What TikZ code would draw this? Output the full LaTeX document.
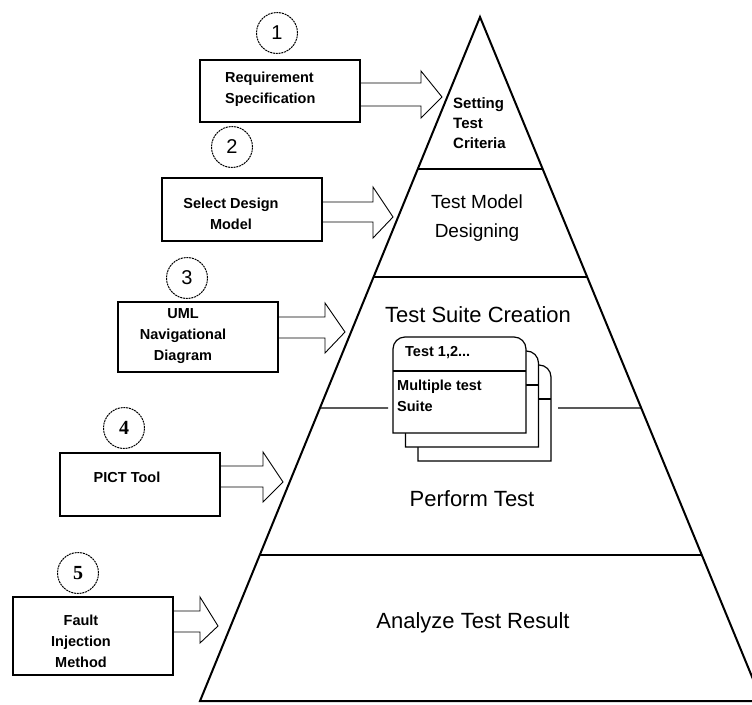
\documentclass[tikz,border=0pt]{standalone}
\usepackage{fontspec}
\setmainfont{Liberation Sans}
\newfontfamily\numserif{Liberation Serif}
\usepackage{tikz}
\usetikzlibrary{calc}

\tikzset{
  inbox/.style={draw, line width=1.3pt, minimum width=160pt, inner sep=0pt},
  numcirc/.style={draw, circle, dash pattern=on 2pt off 0.8pt, line width=1pt,
    minimum size=41pt, inner sep=0pt, font=\fontsize{20}{20}\selectfont},
  lbl/.style={font=\bfseries\fontsize{14.5}{21}\selectfont, inner sep=0pt},
  lvl/.style={font=\fontsize{22}{28}\selectfont, inner sep=0pt},
  blockarr/.style={line width=0.9pt, line join=miter},
}

\begin{document}
\begin{tikzpicture}[x=1pt,y=-1pt]
          \useasboundingbox (0,0) rectangle (752,704);
          \clip (0,0) rectangle (752,704);

          %%    % pyramid
          \coordinate (apex) at (480,17);
          \coordinate (bl) at (200,701);
          \coordinate (br) at (762,701);
          \draw[line width=2pt, line join=miter] (apex) -- (bl) -- (br) -- cycle;
          \foreach \t in {0.2222,0.3801,0.7865} {
            \draw[line width=1.3pt] ($(apex)!\t!(bl)$) -- ($(apex)!\t!(br)$);
          }
          \draw[line width=1.3pt] ($(apex)!0.5716!(bl)$) -- (388,408);
          \draw[line width=1.3pt] (558,408) -- ($(apex)!0.5716!(br)$);

          \node[lbl, anchor=west, align=left, font=\bfseries\fontsize{15}{20}\selectfont]
            (crit) at (453,123) {Setting\\Test\\Criteria};
          \node[lvl, align=center, font=\fontsize{19}{29}\selectfont]
            (tmd) at (477,218) {Test Model\\Designing};
          \node[lvl] (tsc) at (478,315) {Test Suite Creation};
          \node[lvl] (pft) at (472,499) {Perform Test};
          \node[lvl] (atr) at (473,623) {Analyze Test Result};

          %%    % stack of test cards
          \foreach \k in {2,1,0} {
            \pgfmathsetmacro{\cx}{393+12.5*\k}
            \pgfmathsetmacro{\cy}{337+14*\k}
            \draw[line width=1.2pt, fill=white] (\cx,\cy+96) -- (\cx,\cy+12)
              arc[start angle=180, end angle=270, radius=12] -- (\cx+121,\cy)
              arc[start angle=270, end angle=360, radius=12] -- (\cx+133,\cy+96) -- cycle;
            \draw[line width=1.2pt] (\cx,\cy+34) -- (\cx+133,\cy+34);
          }
          \node[lbl, anchor=west] (ttl) at (405,353) {Test 1,2...};
          \node[lbl, anchor=west, align=left] (mts) at (397,396) {Multiple test\\Suite};

          %%    % input boxes
          \node[inbox, minimum height=62pt] (b1) at (280,91) {};
          \node[inbox, minimum height=63pt] (b2) at (242,209.5) {};
          \node[inbox, minimum height=70pt] (b3) at (198,337) {};
          \node[inbox, minimum height=63pt] (b4) at (140,484.5) {};
          \node[inbox, minimum height=78pt] (b5) at (93,636) {};

          \node[lbl, anchor=west, align=left] (t1) at (225,89) {Requirement\\Specification};
          \node[lbl, align=center] (t2) at (231,214) {Select Design\\Model};
          \node[lbl, align=center] (t3) at (183,336) {UML\\Navigational\\ Diagram};
          \node[lbl] (t4) at (127,477) {PICT Tool};
          \node[lbl, align=center] (t5) at (81,641) {Fault\\Injection\\Method};

          %%    % numbers
          \node[numcirc] (c1) at (277,33) {1};
          \node[numcirc] (c2) at (232,147) {2};
          \node[numcirc] (c3) at (187,278) {3};
          \node[numcirc, font=\numserif\bfseries\fontsize{20}{20}\selectfont] (c4) at (124,428) {4};
          \node[numcirc, font=\numserif\bfseries\fontsize{20}{20}\selectfont] (c5) at (78,573) {5};

          %%    % block arrows into the pyramid
          \foreach \b/\st/\sb/\se/\ht/\hb/\tx/\ty in
            {b1/83/106/421/71/118/442/97,
             b2/202/222/373/187/238/393/217,
             b3/317/338/325/303/353/345/332,
             b4/466/487/263/452/502/283/482,
             b5/611/632/200/597/643/218/626} {
            \draw[blockarr] (\b.east |- 0,\st) -- (\se,\st) -- (\se,\ht) -- (\tx,\ty)
              -- (\se,\hb) -- (\se,\sb) -- (\b.east |- 0,\sb);
          }

\end{tikzpicture}
\end{document}
